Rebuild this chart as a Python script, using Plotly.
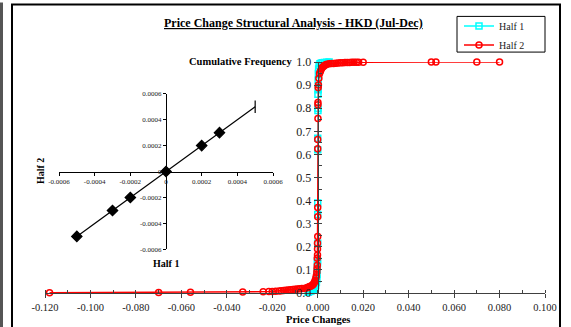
import plotly.graph_objects as go

# ---------------- data ----------------
half1_x = [-0.0042, -0.0036, -0.0030, -0.0025, -0.0020, -0.0016, -0.0012, -0.0009,
           -0.0006, -0.0004, -0.0003, -0.0002, -0.0001, -0.0001, 0.0, 0.0, 0.0, 0.0,
           0.0, 0.0001, 0.0001, 0.0001, 0.0002, 0.0002, 0.0003, 0.0004, 0.0006,
           0.0010, 0.0015, 0.0020, 0.0030, 0.0040, 0.0050]
half1_y = [0.003, 0.006, 0.009, 0.012, 0.016, 0.020, 0.025, 0.032,
           0.045, 0.060, 0.080, 0.100, 0.130, 0.140, 0.215, 0.340, 0.390, 0.620,
           0.670, 0.790, 0.800, 0.860, 0.880, 0.920, 0.950, 0.970, 0.985,
           0.992, 0.995, 0.997, 0.998, 0.999, 1.000]

half2_x = [-0.118, -0.070, -0.056, -0.033, -0.024, -0.0215, -0.020, -0.0185, -0.017,
           -0.016, -0.015, -0.014, -0.013, -0.012, -0.011, -0.010, -0.009, -0.008,
           -0.007, -0.006, -0.005, -0.0045, -0.004, -0.0035, -0.003, -0.0025, -0.002,
           -0.0017, -0.0014, -0.0011, -0.0008, -0.0006, -0.0004, -0.0003, -0.0002,
           -0.0002, -0.0001, -0.0001, -0.0001, 0.0, 0.0, 0.0, 0.0, 0.0, 0.0001,
           0.0001, 0.0001, 0.0002, 0.0003, 0.0005, 0.0008, 0.0012, 0.0016, 0.002,
           0.0025, 0.003, 0.0035, 0.004, 0.005, 0.006, 0.007, 0.008, 0.009, 0.010,
           0.011, 0.012, 0.013, 0.014, 0.015, 0.016, 0.017, 0.018, 0.020, 0.050,
           0.052, 0.070, 0.080]
half2_y = [0.001, 0.002, 0.003, 0.004, 0.005, 0.006, 0.007, 0.008, 0.009,
           0.010, 0.011, 0.012, 0.013, 0.014, 0.015, 0.016, 0.017, 0.018,
           0.019, 0.020, 0.022, 0.024, 0.026, 0.028, 0.030, 0.033, 0.037,
           0.042, 0.048, 0.055, 0.065, 0.075, 0.090, 0.105, 0.120,
           0.150, 0.165, 0.190, 0.215, 0.245, 0.330, 0.370, 0.625, 0.665, 0.755,
           0.815, 0.825, 0.890, 0.900, 0.930, 0.950, 0.960, 0.970, 0.976,
           0.981, 0.985, 0.988, 0.990, 0.992, 0.993, 0.994, 0.995, 0.996, 0.9965,
           0.997, 0.9975, 0.998, 0.9983, 0.9986, 0.9988, 0.999, 0.9992, 0.9994, 0.9995,
           0.9996, 0.9998, 1.000]

inset_x = [-0.0005, -0.0003, -0.0002, 0.0, 0.0002, 0.0003, 0.0005]
inset_y = [-0.0005, -0.0003, -0.0002, 0.0, 0.0002, 0.0003, 0.0005]

main_xticks = [-0.12, -0.10, -0.08, -0.06, -0.04, -0.02, 0.0, 0.02, 0.04, 0.06, 0.08, 0.10]
main_xlabels = ["-0.120", "-0.100", "-0.080", "-0.060", "-0.040", "-0.020", "0.000",
                "0.020", "0.040", "0.060", "0.080", "0.100"]
main_yticks = [0.0, 0.1, 0.2, 0.3, 0.4, 0.5, 0.6, 0.7, 0.8, 0.9, 1.0]
main_ylabels = ["0.0", "0.1", "0.2", "0.3", "0.4", "0.5", "0.6", "0.7", "0.8", "0.9", "1.0"]
inset_ticks = [-0.0006, -0.0004, -0.0002, 0.0, 0.0002, 0.0004, 0.0006]
inset_labels = ["-0.0006", "-0.0004", "-0.0002", "0", "0.0002", "0.0004", "0.0006"]

# ---------------- layout geometry ----------------
W, H = 571, 327
L, R, T, B = 45, 26, 60, 34
PW, PH = W - L - R, H - T - B
XR = [-0.12, 0.10]
YR = [0.0, 1.0]


def px(x):
    return (x - L) / PW


def py(y):
    return (H - B - y) / PH


FONT = "Liberation Serif"
AX = "#404040"

fig = go.Figure()

fig.add_trace(go.Scatter(
    x=half1_x, y=half1_y, name="Half 1", mode="lines+markers",
    line=dict(color="#00FFFF", width=1.5),
    marker=dict(symbol="square-open", size=6, color="#00FFFF", line=dict(width=1.5)),
    cliponaxis=False, xaxis="x", yaxis="y"))
fig.add_trace(go.Scatter(
    x=half2_x, y=half2_y, name="Half 2", mode="lines+markers",
    line=dict(color="#FF0000", width=1.5),
    marker=dict(symbol="circle-open", size=6, color="#FF0000", line=dict(width=1.5)),
    cliponaxis=False, xaxis="x", yaxis="y"))

fig.add_trace(go.Scatter(
    x=inset_x, y=inset_y, mode="lines+markers", showlegend=False,
    line=dict(color="black", width=1.2),
    marker=dict(symbol=["diamond"] * 6 + ["line-ns"], size=[8] * 6 + [9], opacity=1,
                color="black", line=dict(color="black", width=1.2)),
    cliponaxis=False, xaxis="x2", yaxis="y2"))

yaxis_pos = (0 - XR[0]) / (XR[1] - XR[0])
ix_dom = [px(59), px(273)]
iy_dom = [py(249), py(92)]

fig.update_layout(
    width=W, height=H,
    margin=dict(l=L, r=R, t=T, b=B),
    paper_bgcolor="white", plot_bgcolor="white",
    font=dict(family=FONT, color="#222222"),
    showlegend=True,
    legend=dict(x=px(459), y=py(9), xanchor="left", yanchor="top",
                bordercolor="black", borderwidth=0, bgcolor="rgba(0,0,0,0)",
                font=dict(family=FONT, size=10, color="#222222"),
                itemwidth=30, tracegroupgap=0),
    xaxis=dict(domain=[0, 1], range=XR, anchor="y", showgrid=False, zeroline=False,
               showline=True, linecolor=AX, linewidth=1.2,
               tickmode="array", tickvals=main_xticks, ticktext=main_xlabels,
               ticks="outside", ticklen=4, tickcolor=AX, tickwidth=1,
               tickfont=dict(family=FONT, size=10.5, color="#222222"),
               minor=dict(dtick=0.01, tick0=0, ticks="inside", ticklen=3, tickcolor=AX)),
    xaxis3=dict(range=XR, overlaying="x", anchor="y", showgrid=False, zeroline=False,
                showline=False, tickmode="array", tickvals=main_xticks,
                ticks="inside", ticklen=4, tickcolor=AX, showticklabels=False),
    yaxis=dict(domain=[0, 1], range=YR, anchor="free", position=yaxis_pos,
               showgrid=False, zeroline=False, showline=True, linecolor=AX, linewidth=1.2,
               tickmode="array", tickvals=main_yticks, ticktext=main_ylabels,
               ticks="outside", ticklen=4, tickcolor=AX,
               tickfont=dict(family=FONT, size=12, color="#222222"),
               minor=dict(dtick=0.05, tick0=0, ticks="inside", ticklen=3, tickcolor=AX)),
    yaxis3=dict(range=YR, overlaying="y", anchor="free", position=yaxis_pos,
                showgrid=False, zeroline=False, showline=False,
                tickmode="array", tickvals=main_yticks, ticks="inside", ticklen=4,
                tickcolor=AX, showticklabels=False),
    xaxis2=dict(domain=ix_dom, range=[-0.0006, 0.0006], anchor="free",
                position=(iy_dom[0] + iy_dom[1]) / 2,
                showgrid=False, zeroline=False, showline=True, linecolor="black",
                linewidth=1, tickmode="array", tickvals=inset_ticks, ticktext=inset_labels,
                ticks="outside", ticklen=3, tickcolor="black",
                tickfont=dict(family=FONT, size=7, color="#222222")),
    yaxis2=dict(domain=iy_dom, range=[-0.0006, 0.0006], anchor="free",
                position=(ix_dom[0] + ix_dom[1]) / 2,
                showgrid=False, zeroline=False, showline=True, linecolor="black",
                linewidth=1, tickmode="array", tickvals=inset_ticks, ticktext=inset_labels,
                ticks="outside", ticklen=3, tickcolor="black",
                tickfont=dict(family=FONT, size=7, color="#222222")),
)

ann = [
    dict(text="<b><u>Price Change Structural Analysis - HKD (Jul-Dec)</u></b>",
         x=px(293), y=py(21), size=12, xanchor="center", angle=0),
    dict(text="<b>Cumulative Frequency</b>", x=px(295), y=py(59), size=10.5,
         xanchor="right", angle=0),
    dict(text="<b>Price Changes</b>", x=px(318), y=py(320), size=10.5,
         xanchor="center", angle=0),
    dict(text="<b>Half 1</b>", x=px(166), y=py(263), size=10, xanchor="center", angle=0),
    dict(text="<b>Half 2</b>", x=px(40), y=py(170), size=10, xanchor="center", angle=-90),
]
for a in ann:
    fig.add_annotation(text=a["text"], x=a["x"], y=a["y"], xref="paper", yref="paper",
                       xanchor=a["xanchor"], yanchor="middle", showarrow=False,
                       textangle=a["angle"],
                       font=dict(family=FONT, size=a["size"], color="black"))

# outer chart frame, window edge and legend box
fig.add_shape(type="rect", xref="paper", yref="paper",
              x0=px(12), x1=px(560), y0=py(340), y1=py(2),
              line=dict(color="black", width=2), layer="below")
fig.add_shape(type="line", xref="paper", yref="paper",
              x0=px(1.5), x1=px(1.5), y0=py(340), y1=py(0),
              line=dict(color="#555555", width=3), layer="below")
fig.add_shape(type="rect", xref="paper", yref="paper",
              x0=px(457), x1=px(545), y0=py(50), y1=py(14),
              line=dict(color="black", width=1), fillcolor="white", layer="below")

fig.write_html("out.html")
